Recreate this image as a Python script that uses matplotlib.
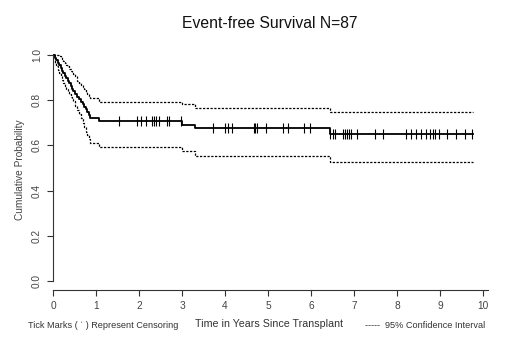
import numpy as np
import matplotlib
matplotlib.use('Agg')
import matplotlib.pyplot as plt

plt.rcParams['font.family'] = ['Liberation Sans', 'DejaVu Sans']

# step times (years) and survival levels
step_t = [0, 0.05, 0.08, 0.11, 0.14, 0.18, 0.21, 0.24, 0.28, 0.31, 0.35,
          0.38, 0.41, 0.44, 0.47, 0.51, 0.56, 0.60, 0.65, 0.69, 0.73,
          0.77, 0.80, 0.83, 0.86, 1.08, 3.00, 3.30, 6.43]
km_s = [1.0, 0.989, 0.977, 0.966, 0.954, 0.943, 0.931, 0.920, 0.908, 0.897, 0.885,
        0.874, 0.862, 0.851, 0.839, 0.828, 0.816, 0.805, 0.793, 0.782, 0.770,
        0.759, 0.747, 0.736, 0.722, 0.707, 0.690, 0.676, 0.650]
upper_s = [1.0, 1.0, 1.0, 1.0, 0.995, 0.99, 0.982, 0.975, 0.966, 0.958, 0.95,
           0.94, 0.93, 0.922, 0.915, 0.905, 0.885, 0.878, 0.868, 0.858, 0.848,
           0.838, 0.828, 0.818, 0.808, 0.793, 0.783, 0.767, 0.748]
lower_s = [1.0, 0.966, 0.95, 0.935, 0.92, 0.905, 0.89, 0.875, 0.862, 0.85, 0.838,
           0.826, 0.815, 0.806, 0.795, 0.775, 0.755, 0.74, 0.72, 0.70, 0.68,
           0.66, 0.645, 0.628, 0.61, 0.594, 0.577, 0.554, 0.525]
t_end = 9.76

censor_t = [1.53, 1.95, 2.05, 2.16, 2.30, 2.35, 2.40, 2.47, 2.64, 2.70, 2.98,
            3.73, 4.00, 4.08, 4.16, 4.67, 4.70, 4.74, 4.95, 5.34, 5.47, 5.84, 5.98,
            6.44, 6.50, 6.55, 6.74, 6.78, 6.83, 6.88, 6.92, 7.08, 7.49, 7.67,
            8.21, 8.33, 8.44, 8.56, 8.67, 8.77, 8.83, 8.89, 8.98, 9.16, 9.36,
            9.57, 9.74]

x_ticks = [0, 1, 2, 3, 4, 5, 6, 7, 8, 9, 10]
y_ticks = [0.0, 0.2, 0.4, 0.6, 0.8, 1.0]

W, H = 520, 346
fig = plt.figure(figsize=(W / 100, H / 100), dpi=100)
ax = fig.add_axes([53 / W, 56 / H, 436.5 / W, 239.5 / H])

def extend(vals):
    return list(vals) + [vals[-1]]

tt = step_t + [t_end]
ax.step(tt, extend(km_s), where='post', color='black', lw=1.3)
ax.step(tt, extend(upper_s), where='post', color='black', lw=0.9, dashes=(1.8, 1.2))
ax.step(tt, extend(lower_s), where='post', color='black', lw=0.9, dashes=(1.8, 1.2))

# censor marks sit on the curve
idx = np.searchsorted(step_t, censor_t, side='right') - 1
cy = np.array(km_s)[idx]
ax.plot(censor_t, cy, ls='none', marker='|', ms=7, mew=0.8, color='black')

ax.set_xlim(0, 10.15)
ax.set_ylim(-0.04, 1.02)
ax.spines['top'].set_visible(False)
ax.spines['right'].set_visible(False)
ax.spines['left'].set_bounds(0, 1.0)
ax.spines['bottom'].set_bounds(0, 10.12)
for s in ['left', 'bottom']:
    ax.spines[s].set_color('#333333')
    ax.spines[s].set_linewidth(0.8)

ax.set_xticks(x_ticks)
ax.set_xticklabels([str(v) for v in x_ticks])
ax.set_yticks(y_ticks)
ax.set_yticklabels(['%.1f' % v for v in y_ticks], rotation=90, va='center')
ax.tick_params(direction='out', length=4, width=0.8, colors='#333333',
               labelsize=7.3, labelcolor='#444444', pad=4)

fig.text(20 / W, 1 - 170 / H, 'Cumulative Probability', rotation=90,
         ha='center', va='center', fontsize=7.3, color='#444444')
fig.text(270 / W, 1 - 24 / H, 'Event-free Survival N=87', ha='center',
         va='center', fontsize=11.3, color='#111111')
fig.text(28 / W, 1 - 326 / H, 'Tick Marks ( \u02c8 ) Represent Censoring',
         ha='left', va='center', fontsize=6.6, color='#333333')
fig.text(269 / W, 1 - 324 / H, 'Time in Years Since Transplant',
         ha='center', va='center', fontsize=7.7, color='#333333')
fig.text(365 / W, 1 - 326 / H, '-----  95% Confidence Interval',
         ha='left', va='center', fontsize=6.6, color='#333333')

fig.savefig('out.png', dpi=100)
